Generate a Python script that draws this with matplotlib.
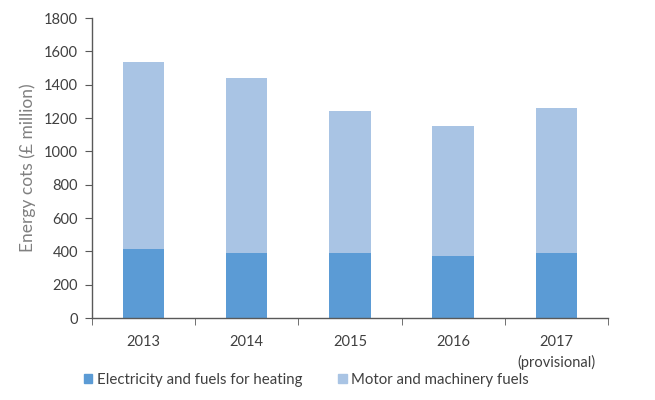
import matplotlib
matplotlib.use("Agg")
import matplotlib.pyplot as plt
import numpy as np
from matplotlib.patches import Patch

years = ["2013", "2014", "2015", "2016", "2017\n(provisional)"]
electricity = [412, 388, 388, 372, 388]
motor = [1123, 1052, 852, 778, 874]
yticks = [0, 200, 400, 600, 800, 1000, 1200, 1400, 1600, 1800]

c_dark = "#5B9BD5"
c_light = "#A9C4E4"

plt.rcParams['font.family'] = ['Lato', 'DejaVu Sans']

fig = plt.figure(figsize=(6.55, 4.0), dpi=100)
ax = fig.add_axes([0.1405, 0.205, 0.7875, 0.75])

x = np.arange(len(years))
ax.bar(x, electricity, width=0.4, color=c_dark, zorder=2)
ax.bar(x, motor, width=0.4, bottom=electricity, color=c_light, zorder=2)

ax.set_xlim(-0.5, len(years) - 0.5)
ax.set_ylim(0, 1800)
ax.set_yticks(yticks)
ax.set_yticklabels([str(v) for v in yticks], fontsize=10.5, color="#404040")

ax.set_xticks(x)
ax.set_xticklabels(years, fontsize=10.5, color="#404040", linespacing=1.55)
ax.tick_params(axis='x', length=0, pad=12)
ax.set_xticks(np.arange(len(years) + 1) - 0.5, minor=True)
ax.tick_params(axis='x', which='minor', length=5, direction='out', color="#595959")
ax.tick_params(axis='y', length=5, direction='out', color="#595959", pad=5)

for s in ['top', 'right']:
    ax.spines[s].set_visible(False)
for s in ['left', 'bottom']:
    ax.spines[s].set_color("#595959")
    ax.spines[s].set_linewidth(1.0)

ax.set_ylabel("Energy cots (£ million)", fontsize=12.5, color="#808080", labelpad=6)

handles = [Patch(color=c_dark, label="Electricity and fuels for heating"),
           Patch(color=c_light, label="Motor and machinery fuels")]
fig.legend(handles=handles, loc='center', bbox_to_anchor=(0.468, 0.05), ncol=2,
           frameon=False, fontsize=10.8, handlelength=0.55, handleheight=0.55,
           handletextpad=0.3, columnspacing=2.4, labelcolor="#404040")

fig.savefig("out.png", dpi=100)
